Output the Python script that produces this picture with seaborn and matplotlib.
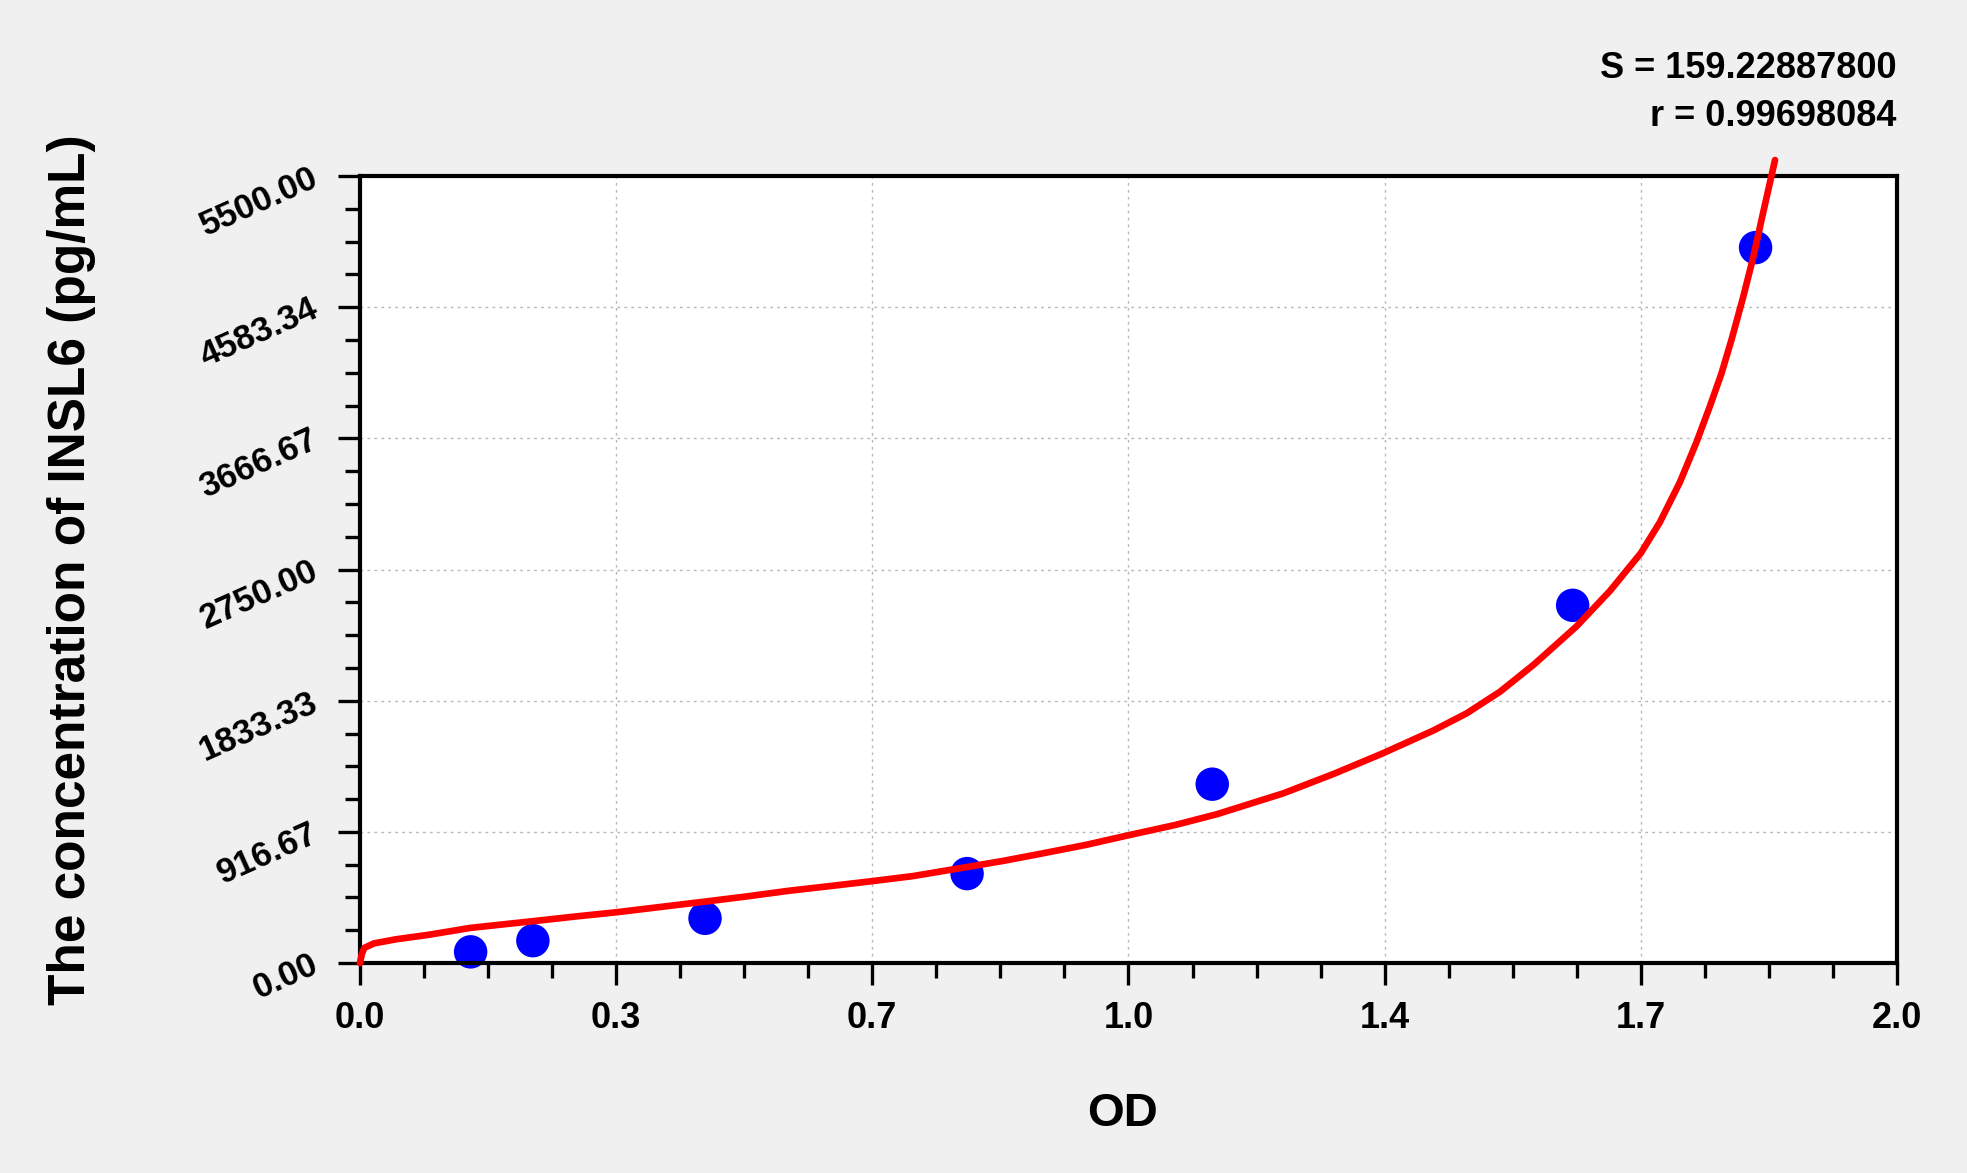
import numpy as np
import pandas as pd
import matplotlib
matplotlib.use("Agg")
import matplotlib.pyplot as plt
import seaborn as sns
from matplotlib.ticker import FixedLocator, MultipleLocator

# ========== Datos ==========

# puntos estandar (OD, concentracion)
od_points = [0.144, 0.225, 0.449, 0.790, 1.109, 1.578, 1.816]
conc_points = [78.13, 156.25, 312.5, 625.0, 1250.0, 2500.0, 5000.0]

# curva ajustada
curve_od = [0.0, 0.0025, 0.0058, 0.018, 0.047, 0.089, 0.143, 0.172, 0.226, 0.280,
            0.334, 0.388, 0.450, 0.504, 0.558, 0.612, 0.666, 0.720, 0.791, 0.836,
            0.886, 0.944, 1.000, 1.061, 1.115, 1.2015, 1.2666, 1.3307, 1.3967, 1.440,
            1.4834, 1.5268, 1.5396, 1.583, 1.6264, 1.6667, 1.6914, 1.7175, 1.7391,
            1.7565, 1.7716, 1.7849, 1.8000, 1.8131, 1.8261, 1.8413]
curve_conc = [0, 65, 106, 137, 166, 197, 245, 262, 293, 325,
              355, 390, 430, 466, 505, 538, 572, 608, 672, 713,
              764, 825, 893, 965, 1040, 1186, 1321, 1465, 1625, 1745,
              1896, 2083, 2144, 2353, 2600, 2865, 3080, 3360, 3640,
              3890, 4120, 4360, 4657, 4936, 5250, 5612]

x_ticks = [0.0, 1/3, 2/3, 1.0, 4/3, 5/3, 2.0]
x_labels = ["0.0", "0.3", "0.7", "1.0", "1.4", "1.7", "2.0"]
y_ticks = [0.0, 916.67, 1833.33, 2750.0, 3666.67, 4583.34, 5500.0]
y_labels = ["0.00", "916.67", "1833.33", "2750.00", "3666.67", "4583.34", "5500.00"]

s_text = "S = 159.22887800"
r_text = "r = 0.99698084"

pts = pd.DataFrame({"OD": od_points, "conc": conc_points})
curve = pd.DataFrame({"OD": curve_od, "conc": curve_conc})

# ========== Estilo ==========
sns.set_style("white")
plt.rcParams['font.family'] = ['Liberation Sans', 'DejaVu Sans']
plt.rcParams['font.weight'] = 'bold'
plt.rcParams['text.color'] = 'black'
plt.rcParams['axes.labelcolor'] = 'black'
plt.rcParams['xtick.color'] = 'black'
plt.rcParams['ytick.color'] = 'black'

fig = plt.figure(figsize=(19.67, 11.73), dpi=100, facecolor="#f0f0f0")
ax = fig.add_axes([0.1830, 0.1790, 0.7814, 0.6709])
ax.set_facecolor("white")

# ---------- Curva y puntos ----------
sns.scatterplot(data=pts, x="OD", y="conc", ax=ax, color="#0000ff", s=580,
                edgecolor="none", zorder=2, clip_on=False)
sns.lineplot(data=curve, x="OD", y="conc", ax=ax, color="#ff0000", linewidth=4.8,
             sort=False, estimator=None, clip_on=False, zorder=3)

# ---------- Ejes ----------
ax.set_xlim(0, 2.0)
ax.set_ylim(0, 5500)
ax.xaxis.set_major_locator(FixedLocator(x_ticks))
ax.set_xticklabels(x_labels)
ax.xaxis.set_minor_locator(MultipleLocator(1/12))
ax.yaxis.set_major_locator(FixedLocator(y_ticks))
ax.set_yticklabels(y_labels)
ax.yaxis.set_minor_locator(MultipleLocator(5500/24))

ax.tick_params(axis="both", which="both", bottom=True, left=True, top=False, right=False,
               direction="out", width=2.4, color="black")
ax.tick_params(axis="both", which="major", length=15.5, labelsize=26)
ax.tick_params(axis="both", which="minor", length=10.5)
ax.tick_params(axis="x", which="major", pad=12)
ax.tick_params(axis="y", which="major", pad=16)
for lab in ax.get_yticklabels():
    lab.set_rotation(24)
    lab.set_rotation_mode("anchor")
    lab.set_ha("right")
    lab.set_va("center")
    lab.set_fontweight("bold")
    lab.set_fontsize(25)
for lab in ax.get_xticklabels():
    lab.set_fontweight("bold")

ax.grid(True, which="major", linestyle=(0, (2, 3)), color="#b8b8b8", linewidth=1.0)
ax.set_axisbelow(True)

for side in ["left", "bottom", "top", "right"]:
    ax.spines[side].set_visible(True)
    ax.spines[side].set_color("black")
    ax.spines[side].set_linewidth(3.0)

ax.set_xlabel("OD", fontsize=34, fontweight="bold")
ax.xaxis.set_label_coords(0.496, -0.192)
ax.xaxis.label.set_va("center")
ax.set_ylabel("The concentration of INSL6 (pg/mL)", fontsize=37, fontweight="bold")
ax.yaxis.set_label_coords(-0.188, 0.5)
ax.yaxis.label.set_va("center")

# ---------- Texto S y r ----------
fig.text(0.9644, 1 - 68/1173, s_text, ha="right", va="center", fontsize=26, fontweight="bold")
fig.text(0.9644, 1 - 116/1173, r_text, ha="right", va="center", fontsize=26, fontweight="bold")

fig.savefig("out.png", dpi=100, facecolor=fig.get_facecolor())
